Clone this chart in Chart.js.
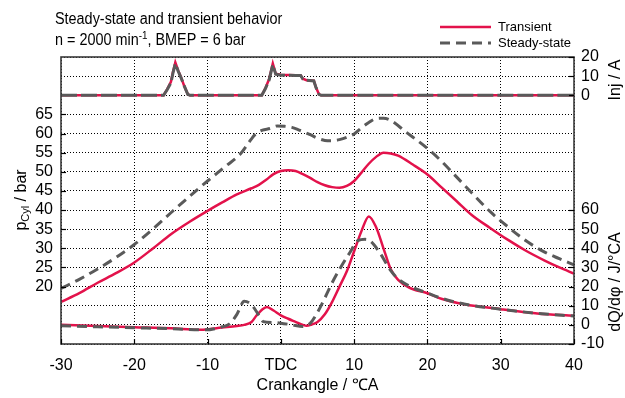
<!DOCTYPE html>
<html>
<head>
<meta charset="utf-8">
<title>Steady-state and transient behavior</title>
<script src="https://cdn.jsdelivr.net/npm/chart.js@4.4.1/dist/chart.umd.min.js"></script>
<style>
  html, body { margin: 0; padding: 0; background: #fff; }
  #wrap { width: 625px; height: 398px; }
</style>
</head>
<body>
<div id="wrap"><canvas id="chart" width="625" height="398"></canvas></div>
<script>
// cylinder pressure, bar
const pSteadyAngle = [-30, -27.5, -25, -22.5, -20, -17.5, -15, -12.5, -10, -7.5, -5.5, -4.5, -3.5, -2.5, -1.5, -0.5, 0.5, 1.5, 2.5, 4, 5, 6, 7, 8, 9, 10, 11, 12, 13, 14, 15, 17, 20, 22, 24, 26, 28.5, 31, 33.5, 36, 38, 40];
const pSteady = [19.5, 21.9, 24.6, 27.6, 31.0, 35.0, 39.3, 43.5, 47.6, 51.5, 54.7, 57.3, 59.8, 60.9, 61.3, 62.0, 61.9, 61.6, 60.9, 59.7, 58.8, 58.2, 58.1, 58.4, 59.0, 59.9, 61.5, 62.9, 63.9, 64.0, 63.4, 60.5, 56.1, 52.6, 48.6, 44.6, 39.7, 35.6, 31.9, 29.0, 27.3, 25.7];
const pTransientAngle = [-30, -27.5, -25, -22.5, -20, -17.5, -15, -12.5, -10, -8, -6, -4, -3, -2, -1, 0, 1, 2, 3, 4, 5, 6, 7, 8, 9, 10, 11, 12, 13, 14, 15, 16, 18, 20, 22, 24, 26, 28.5, 31, 33.5, 36, 38, 40];
const pTransient = [16.0, 18.3, 21.0, 23.5, 26.3, 29.9, 33.7, 36.9, 39.8, 42.0, 44.1, 45.7, 46.6, 47.9, 49.4, 50.2, 50.4, 50.2, 49.4, 48.4, 47.3, 46.5, 46.0, 45.8, 46.3, 47.6, 49.8, 52.1, 53.9, 55.0, 54.8, 54.2, 51.9, 49.3, 45.8, 42.3, 38.8, 35.4, 32.2, 29.3, 26.8, 25.0, 23.4];

// heat release rate, J/°CA
const qSteadyAngle = [-30, -25, -20, -15, -10.3, -8, -7, -6, -5, -4, -3, -2.4, -1, 0, 1.5, 3, 4, 5, 6, 7, 8, 9.4, 10.5, 11.5, 12.2, 13.5, 14.9, 16, 17.6, 20, 22, 25, 30, 35, 40];
const qSteady = [-0.4, -1.0, -1.5, -2.0, -2.6, -1.0, 0.5, 5.5, 12.3, 10.5, 5.0, 1.7, 1.2, 0.9, 0, -0.9, 0.8, 6.5, 14, 22, 29, 37.7, 44, 44.7, 43.8, 37.7, 28.9, 24, 20.2, 16.6, 13.8, 10.9, 8.2, 6.0, 4.6];
const qTransientAngle = [-30, -25, -20, -15, -11, -8, -6, -5, -4, -3.3, -2.5, -1.9, -1, 0, 1, 2, 3, 3.5, 4.2, 5, 6, 7, 8, 9, 10, 11, 12, 13, 14, 15, 16, 17.5, 20, 22, 25, 30, 35, 40];
const qTransient = [0, -0.6, -1.2, -1.8, -2.6, -1.4, -0.6, 0, 1.5, 5.0, 8.2, 9.4, 7.5, 5.0, 3.2, 1.6, 0, -0.5, 0.2, 1.5, 5.5, 12, 20, 28, 38.5, 49, 56.7, 51, 40, 29, 23.5, 19.5, 16.5, 13.5, 10.8, 8.2, 6.0, 4.7];

// injector current, A
const injAngle = [-30, -16, -15.5, -15, -14.7, -14.4, -14.0, -13.6, -13.2, -12.7, -12.4, -2.6, -2.1, -1.6, -1.1, -0.7, 0, 1, 2, 2.7, 3.0, 3.5, 4.5, 4.8, 5.2, 5.5, 40];
const injSteady = [0, 0, 3, 6.5, 12, 16.5, 12.5, 9, 5, 0.5, 0, 0, 3.5, 8, 16, 11, 10.5, 10.5, 10.3, 10.3, 8.5, 7.8, 7.5, 4, 0.5, 0, 0];
const injTransient = [0, 0, 3.2, 7, 12.5, 17.2, 12.8, 9.2, 5, 0.5, 0, 0, 3.8, 8.5, 16.6, 11.2, 10.7, 10.6, 10.4, 10.4, 8.7, 7.9, 7.6, 4, 0.5, 0, 0];

// axis ticks
const angleTicks = [-30, -20, -10, 0, 10, 20, 30, 40];
const pTickLabels = [20, 25, 30, 35, 40, 45, 50, 55, 60, 65];
const qTickLabels = [-10, 0, 10, 20, 30, 40, 50, 60];
const injTickLabels = [0, 10, 20];

const RED = '#e3124b';
const GRAY = '#5a5a5a';
const DASH = [10, 6];
const FONT = '"Liberation Sans", Arial, sans-serif';

const zip = (xs, ys) => xs.map((x, i) => ({ x: x, y: ys[i] }));

Chart.defaults.font.family = FONT;
Chart.defaults.font.size = 16;
Chart.defaults.color = '#000';

function line(ctx, x1, y1, x2, y2) {
    ctx.beginPath();
    ctx.moveTo(x1, y1);
    ctx.lineTo(x2, y2);
    ctx.stroke();
}

// rotated label made of pieces, each with its own size and baseline shift
function rotatedLabel(ctx, cx, cy, parts) {
    ctx.save();
    ctx.translate(cx, cy);
    ctx.rotate(-Math.PI / 2);
    ctx.textBaseline = 'middle';
    ctx.textAlign = 'left';
    let total = 0;
    parts.forEach(p => { ctx.font = p.font; total += ctx.measureText(p.text).width; });
    let x = -total / 2;
    parts.forEach(p => {
        ctx.font = p.font;
        ctx.fillText(p.text, x, p.dy || 0);
        x += ctx.measureText(p.text).width;
    });
    ctx.restore();
}

const decorations = {
    id: 'decorations',
    afterDraw(chart) {
        const { ctx, chartArea: a, scales } = chart;
        ctx.save();
        ctx.fillStyle = '#000';

        // frame
        ctx.strokeStyle = '#3a3a3a';
        ctx.lineWidth = 1.6;
        ctx.strokeRect(a.left, a.top, a.right - a.left, a.bottom - a.top);

        // inward tick marks
        ctx.strokeStyle = '#000';
        ctx.lineWidth = 1.2;
        pTickLabels.forEach(v => {
            const y = Math.round(scales.yP.getPixelForValue(v)) + 0.5;
            line(ctx, a.left, y, a.left + 5, y);
        });
        qTickLabels.forEach(v => {
            const y = Math.round(scales.yQ.getPixelForValue(v)) + 0.5;
            line(ctx, a.right - 5, y, a.right, y);
        });
        injTickLabels.forEach(v => {
            const y = Math.round(scales.yInj.getPixelForValue(v)) + 0.5;
            line(ctx, a.right - 5, y, a.right, y);
        });
        angleTicks.forEach(v => {
            const x = Math.round(scales.x.getPixelForValue(v)) + 0.5;
            line(ctx, x, a.bottom, x, a.bottom - 5);
        });

        // injector current labels on the right
        ctx.font = '16px ' + FONT;
        ctx.textAlign = 'left';
        ctx.textBaseline = 'middle';
        injTickLabels.forEach(v => {
            ctx.fillText(String(v), a.right + 7, scales.yInj.getPixelForValue(v));
        });

        // axis titles
        const big = '16px ' + FONT;
        const small = '11px ' + FONT;
        rotatedLabel(ctx, 22, 200, [
            { text: 'p', font: big },
            { text: 'Cyl', font: small, dy: 4 },
            { text: ' / bar', font: big }
        ]);
        rotatedLabel(ctx, 616, 80, [{ text: 'Inj / A', font: big }]);
        rotatedLabel(ctx, 616, 282, [{ text: 'dQ/dφ / J/°CA', font: big }]);

        ctx.font = big;
        ctx.textAlign = 'center';
        ctx.fillText('Crankangle / ℃A', (a.left + a.right) / 2, 386);

        // title, a slightly condensed 16px face
        ctx.save();
        ctx.translate(55, 0);
        ctx.scale(0.9, 1);
        ctx.textAlign = 'left';
        ctx.font = '16px ' + FONT;
        ctx.fillText('Steady-state and transient behavior', 0, 20);
        let x = 0;
        const head = 'n = 2000 min';
        ctx.fillText(head, x, 41);
        x += ctx.measureText(head).width;
        ctx.font = '11px ' + FONT;
        ctx.fillText('-1', x, 36);
        x += ctx.measureText('-1').width;
        ctx.font = '16px ' + FONT;
        ctx.fillText(', BMEP = 6 bar', x, 41);
        ctx.restore();

        // legend
        ctx.textAlign = 'left';
        ctx.lineWidth = 2.5;
        ctx.strokeStyle = RED;
        line(ctx, 440, 27, 491, 27);
        ctx.lineWidth = 3;
        ctx.strokeStyle = GRAY;
        ctx.setLineDash(DASH);
        line(ctx, 440, 43, 491, 43);
        ctx.setLineDash([]);
        ctx.font = '13px ' + FONT;
        ctx.fillText('Transient', 498, 27);
        ctx.fillText('Steady-state', 498, 43);

        ctx.restore();
    }
};

const dotted = { color: '#000', lineWidth: 1, drawTicks: false, tickLength: 0 };

new Chart(document.getElementById('chart'), {
    type: 'line',
    data: {
        datasets: [
            { label: 'Steady-state', data: zip(injAngle, injSteady), yAxisID: 'yInj', borderColor: GRAY, borderWidth: 3, borderDash: [16, 4], tension: 0 },
            { label: 'Steady-state', data: zip(pSteadyAngle, pSteady), yAxisID: 'yP', borderColor: GRAY, borderWidth: 3, borderDash: DASH, cubicInterpolationMode: 'monotone' },
            { label: 'Steady-state', data: zip(qSteadyAngle, qSteady), yAxisID: 'yQ', borderColor: GRAY, borderWidth: 3, borderDash: DASH, cubicInterpolationMode: 'monotone' },
            { label: 'Transient', data: zip(injAngle, injTransient), yAxisID: 'yInj', borderColor: RED, borderWidth: 2.5, tension: 0 },
            { label: 'Transient', data: zip(pTransientAngle, pTransient), yAxisID: 'yP', borderColor: RED, borderWidth: 2.5, cubicInterpolationMode: 'monotone' },
            { label: 'Transient', data: zip(qTransientAngle, qTransient), yAxisID: 'yQ', borderColor: RED, borderWidth: 2.5, cubicInterpolationMode: 'monotone' }
        ]
    },
    options: {
        responsive: false,
        animation: false,
        devicePixelRatio: 1,
        layout: { padding: { top: 57, left: 0, right: 0, bottom: 0 } },
        elements: { point: { radius: 0 }, line: { fill: false } },
        plugins: { legend: { display: false }, tooltip: { enabled: false } },
        scales: {
            x: {
                type: 'linear', position: 'bottom', min: -30, max: 40,
                afterFit(s) { s.height = 54; },
                ticks: { stepSize: 10, padding: 12, maxRotation: 0, autoSkip: false, callback: v => v === 0 ? 'TDC' : v },
                grid: dotted,
                border: { display: false, dash: [1, 2] }
            },
            yP: {
                type: 'linear', position: 'left', min: 5, max: 80,
                afterFit(s) { s.width = 61; },
                ticks: { stepSize: 5, padding: 8, autoSkip: false, callback: v => pTickLabels.includes(v) ? v : '' },
                grid: dotted,
                border: { display: false, dash: [1, 2] }
            },
            yQ: {
                type: 'linear', position: 'right', min: -10, max: 140,
                afterFit(s) { s.width = 51; },
                ticks: { stepSize: 10, padding: 7, autoSkip: false, callback: v => qTickLabels.includes(v) ? v : '' },
                grid: { display: false, drawTicks: false },
                border: { display: false }
            },
            yInj: {
                type: 'linear', display: false, min: -130, max: 20
            }
        }
    },
    plugins: [decorations]
});
</script>
</body>
</html>
